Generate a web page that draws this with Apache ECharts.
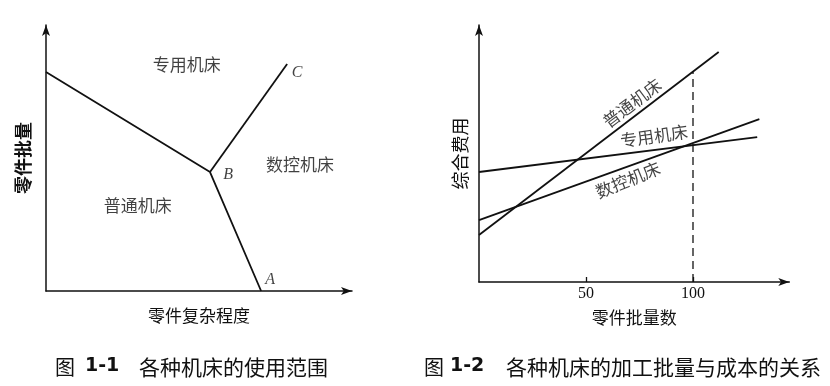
<!DOCTYPE html>
<html><head><meta charset="utf-8">
<script src="https://cdn.jsdelivr.net/npm/echarts@6/dist/echarts.min.js"></script>
<style>html,body{margin:0;padding:0;background:#fff}#c{width:830px;height:386px}</style>
</head><body><div id="c"></div>
<script>
// ---------- Figure 1-1 : application range of machine tools ----------
const regionNames = ['专用机床', '数控机床', '普通机床'];
const regionPos = [[46, 85], [83, 47.5], [30, 32.3]];
const pointNames = ['A', 'B', 'C'];
const boundaryStart = [0, 82.3];
const pointA = [70.3, 0];
const pointB = [53.6, 44.7];
const pointC = [78.8, 85.3];
const leftXName = '零件复杂程度';
const leftYName = '零件批量';

// ---------- Figure 1-2 : batch size vs cost ----------
const machineNames = ['普通机床', '专用机床', '数控机床'];
const batchX = [[0, 112], [0, 130], [0, 131]];
const costY = [[18.3, 89.5], [42.8, 56.4], [24.1, 63.4]];
const machineLabelPos = [[71.5, 69.6], [81.8, 56.8], [69.6, 39.7]];
const xTickLabels = [50, 100];
const dashX = 100;
const rightXName = '零件批量数';
const rightYName = '综合费用';

// ---------- captions ----------
const caption1 = ['图', '1-1', '各种机床的使用范围'];
const caption2 = ['图', '1-2', '各种机床的加工批量与成本的关系'];

const CJK = '"Noto Sans CJK SC", sans-serif';
const SERIF = '"Liberation Serif", "DejaVu Serif", serif';
const black = '#111';

const dashTop = costY[0][0] + (costY[0][1] - costY[0][0]) * (dashX - batchX[0][0]) / (batchX[0][1] - batchX[0][0]);

const axisLineStyle = { show: true, symbol: ['none', 'arrow'], symbolSize: [6, 11], lineStyle: { color: black, width: 1.5 } };

const chart = echarts.init(document.getElementById('c'), null, { renderer: 'canvas' });

const lineStyle = { color: black, width: 1.8 };

function capText(x, txt, size, bold) {
  return { type: 'text', left: x, top: 357, silent: true,
    style: { text: txt, fill: black, font: (bold ? 'bold ' : '') + size + 'px ' + (bold ? '"DejaVu Sans", sans-serif' : CJK) } };
}

chart.setOption({
  animation: false,
  backgroundColor: '#fff',
  grid: [
    { left: 46, top: 25, width: 306, height: 266 },
    { left: 479, top: 25, width: 310.3, height: 257 }
  ],
  xAxis: [
    { gridIndex: 0, type: 'value', min: 0, max: 100,
      axisLine: axisLineStyle, axisTick: { show: false }, axisLabel: { show: false }, splitLine: { show: false },
      name: leftXName, nameLocation: 'middle', nameGap: 16,
      nameTextStyle: { fontFamily: CJK, fontSize: 17, color: black, verticalAlign: 'top' } },
    { gridIndex: 1, type: 'value', min: 0, max: 145,
      axisLine: axisLineStyle,
      axisTick: { show: true, inside: true, length: 5, lineStyle: { color: black, width: 1.3 }, customValues: xTickLabels },
      axisLabel: { show: true, customValues: xTickLabels, margin: 4, fontFamily: SERIF, fontSize: 16, color: black },
      splitLine: { show: false },
      name: rightXName, nameLocation: 'middle', nameGap: 27,
      nameTextStyle: { fontFamily: CJK, fontSize: 17, color: black, verticalAlign: 'top' } }
  ],
  yAxis: [
    { gridIndex: 0, type: 'value', min: 0, max: 100,
      axisLine: axisLineStyle, axisTick: { show: false }, axisLabel: { show: false }, splitLine: { show: false },
      name: leftYName, nameLocation: 'middle', nameRotate: 90, nameGap: 14,
      nameTextStyle: { fontFamily: CJK, fontSize: 18, color: black, fontWeight: 'bold' } },
    { gridIndex: 1, type: 'value', min: 0, max: 100,
      axisLine: axisLineStyle, axisTick: { show: false }, axisLabel: { show: false }, splitLine: { show: false },
      name: rightYName, nameLocation: 'middle', nameRotate: 90, nameGap: 10,
      nameTextStyle: { fontFamily: CJK, fontSize: 18, color: black } }
  ],
  series: [
    { type: 'line', xAxisIndex: 0, yAxisIndex: 0, data: [boundaryStart, pointB, pointA],
      symbol: 'none', lineStyle: lineStyle, silent: true },
    { type: 'line', xAxisIndex: 0, yAxisIndex: 0, data: [pointB, pointC],
      symbol: 'none', lineStyle: lineStyle, silent: true },
    { type: 'scatter', xAxisIndex: 0, yAxisIndex: 0, symbolSize: 1, itemStyle: { color: 'rgba(0,0,0,0)' }, silent: true,
      data: regionNames.map((n, i) => ({ name: n, value: regionPos[i] })),
      label: { show: true, position: 'inside', formatter: p => p.name, fontFamily: CJK, fontSize: 17, color: black } },
    { type: 'scatter', xAxisIndex: 0, yAxisIndex: 0, symbolSize: 1, itemStyle: { color: 'rgba(0,0,0,0)' }, silent: true,
      data: [
        { name: pointNames[0], value: pointA, label: { offset: [9, -11] } },
        { name: pointNames[1], value: pointB, label: { offset: [18, 3] } },
        { name: pointNames[2], value: pointC, label: { offset: [10, 9] } }
      ],
      label: { show: true, position: 'inside', formatter: p => p.name, fontFamily: SERIF, fontStyle: 'italic', fontSize: 16, color: black } },

    ...machineNames.map((n, i) => ({
      type: 'line', xAxisIndex: 1, yAxisIndex: 1, name: n, symbol: 'none', lineStyle: lineStyle, silent: true,
      data: batchX[i].map((x, j) => [x, costY[i][j]])
    })),
    { type: 'line', xAxisIndex: 1, yAxisIndex: 1, symbol: 'none', silent: true,
      lineStyle: { color: black, width: 1.3, type: [8, 5] },
      data: [[dashX, 0], [dashX, dashTop]] },
    { type: 'scatter', xAxisIndex: 1, yAxisIndex: 1, symbolSize: 1, itemStyle: { color: 'rgba(0,0,0,0)' }, silent: true,
      data: machineNames.map((n, i) => ({ name: n, value: machineLabelPos[i], label: { rotate: [37, 8, 22][i] } })),
      label: { show: true, position: 'inside', formatter: p => p.name, fontFamily: CJK, fontSize: 17, color: black } }
  ],
  graphic: [
    capText(55, caption1[0], 20, false),
    capText(85, caption1[1], 19, true),
    capText(139, caption1[2], 21, false),
    capText(424, caption2[0], 20, false),
    capText(450, caption2[1], 19, true),
    capText(506, caption2[2], 21, false)
  ]
});
</script></body></html>
